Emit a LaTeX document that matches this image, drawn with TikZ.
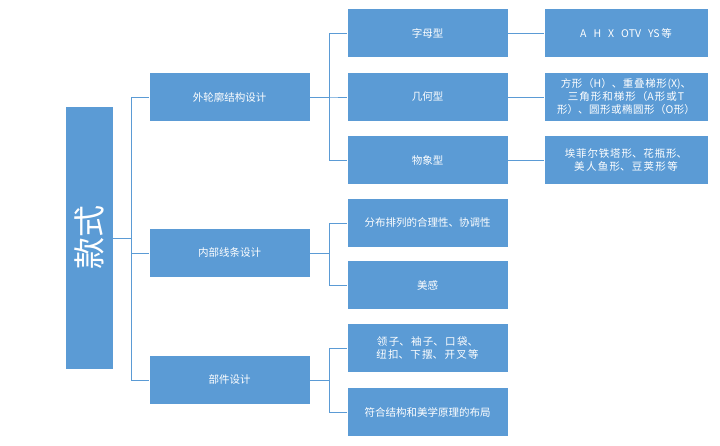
\documentclass[tikz,border=0pt]{standalone}
\usepackage{fontspec}
\setmainfont{Noto Sans CJK SC}
\XeTeXlinebreaklocale "zh"
\XeTeXlinebreakskip = 0pt plus 1pt
\usetikzlibrary{positioning}
\definecolor{boxblue}{HTML}{5B9BD5}
\begin{document}
\begin{tikzpicture}[x=1pt, y=-1pt, line width = 0.8pt,
                    box/.style = {rectangle, draw = white, fill = boxblue, text = white,
                                  minimum width = 161pt, minimum height = 49pt,
                                  align = center, font = \fontsize{10.5}{13}\selectfont},
                    leaf/.style = {box, minimum width = 164pt, text width = 158pt, inner xsep = 3pt},
                    link/.style = {draw = boxblue}]
  \useasboundingbox (0,0) rectangle (720,446);
  \node [box, minimum width = 48pt, minimum height = 263pt] (K) at (89, 238)
        {\rotatebox{90}{\fontsize{32}{32}\selectfont 款式}};

  \node [box] (A) at (229.5, 97) {外轮廓结构设计};
  \node [box] (B) at (229.5, 253) {内部线条设计};
  \node [box] (C) at (229.5, 380) {部件设计};

  \node [box] (A1) at (427.5, 33) {字母型};
  \node [box] (A2) at (427.5, 97) {几何型};
  \node [box] (A3) at (427.5, 160) {物象型};
  \node [box] (B1) at (427.5, 223) {分布排列的合理性、协调性};
  \node [box] (B2) at (427.5, 285) {美感};
  \node [box, text width = 157pt, inner xsep = 2pt] (C1) at (427.5, 348) {领子、袖子、口袋、纽扣、下摆、开叉等};
  \node [box] (C2) at (427.5, 412) {符合结构和美学原理的布局};

  \node [leaf] (A1x) at (626, 33) {A\ \ H\ \ X\ \ OTV\ \ YS等};
  \node [leaf] (A2x) at (626, 97) {方形（H）、重叠梯形(X)、三角形和梯形（A形或T形）、圆形或椭圆形（O形）};
  \node [leaf] (A3x) at (626, 160) {埃菲尔铁塔形、花瓶形、美人鱼形、豆荚形等};

  \foreach \p in {A, B, C}
    \draw [link] (K.east) -- ++(18,0) |- (\p.west);
  \foreach \p/\q in {A/A1, A/A2, A/A3, B/B1, B/B2, C/C1, C/C2}
    \draw [link] (\p.east) -- ++(19,0) |- (\q.west);
  \foreach \q in {A1, A2, A3}
    \draw [link] (\q.east) -- (\q x.west);
\end{tikzpicture}
\end{document}
